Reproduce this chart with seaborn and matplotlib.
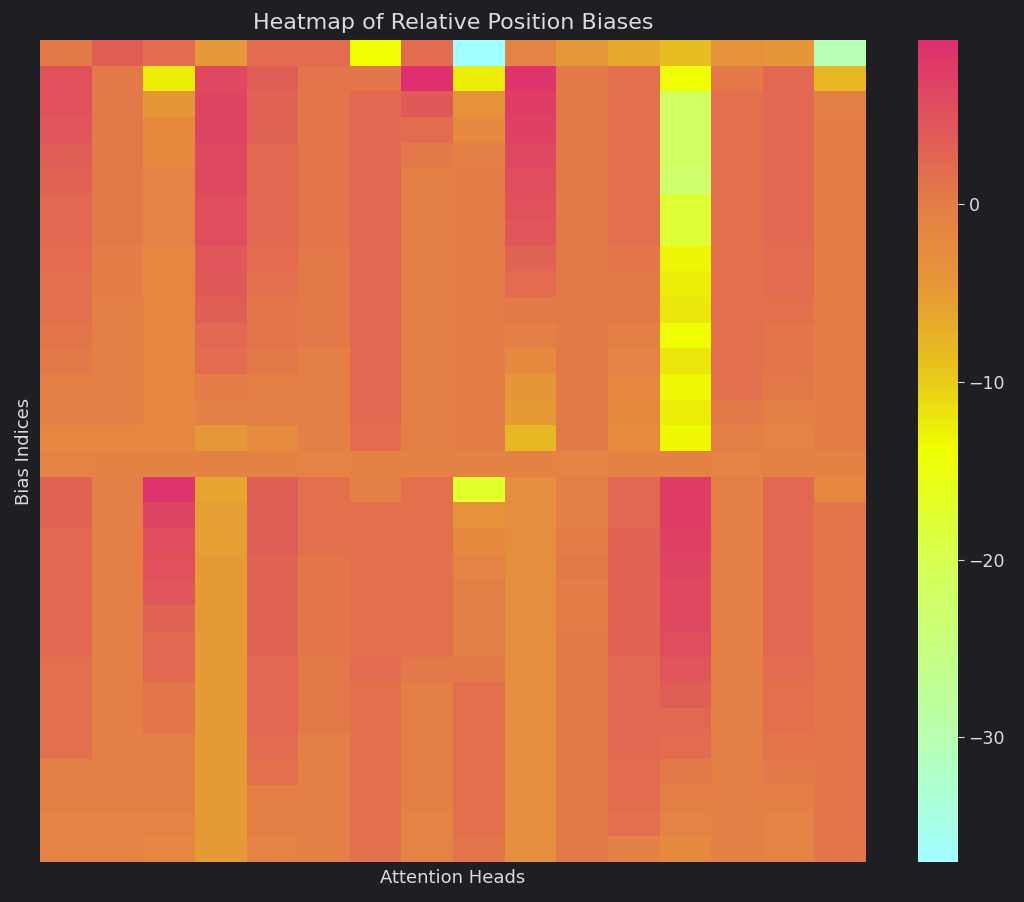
import numpy as np
import pandas as pd
import seaborn as sns
import matplotlib.pyplot as plt
from matplotlib.colors import LinearSegmentedColormap

# === Data: relative position biases (32 buckets x 16 heads) ===
row_00 = [0.5, 3.5, 2.0, -4.5, 2.0, 2.0, -14.0, 2.0, -37.0, -1.0, -4.5, -6.5, -8.5, -3.5, -4.0, -30.5]
row_01 = [5.0, 0.5, -12.5, 6.0, 3.5, 1.0, 1.0, 9.2, -12.5, 8.5, 0.5, 1.5, -14.0, 0.5, 2.5, -8.0]
row_02 = [5.0, 0.5, -4.0, 6.5, 3.0, 1.0, 2.5, 4.0, -3.5, 7.5, 0.5, 1.5, -22.0, 1.5, 2.5, -0.5]
row_03 = [4.5, 0.5, -2.0, 6.5, 3.0, 1.0, 2.5, 2.0, -2.0, 7.0, 0.5, 1.5, -22.0, 1.5, 2.5, 0.0]
row_04 = [3.5, 0.5, -2.0, 6.0, 2.5, 1.0, 2.5, 0.5, -0.5, 6.0, 0.5, 1.5, -22.0, 1.5, 2.5, 0.0]
row_05 = [3.0, 0.5, -1.0, 6.0, 2.5, 1.0, 2.5, -0.5, 0.0, 5.5, 0.5, 1.5, -23.0, 1.5, 2.5, 0.0]
row_06 = [2.5, 0.5, -1.0, 5.5, 2.5, 1.0, 2.5, -0.5, 0.0, 5.0, 0.5, 1.5, -18.0, 1.5, 2.5, 0.0]
row_07 = [2.5, 0.5, -1.0, 5.5, 2.5, 1.0, 2.5, -0.5, 0.0, 4.5, 0.5, 1.5, -18.0, 1.5, 2.5, 0.0]
row_08 = [2.0, 0.0, -1.5, 4.5, 2.0, 0.5, 2.5, -0.5, 0.0, 3.0, 0.5, 1.0, -13.0, 1.5, 2.0, 0.0]
row_09 = [1.5, 0.0, -1.5, 4.0, 1.5, 0.5, 2.5, -0.5, 0.0, 2.0, 0.5, 0.5, -12.5, 1.5, 2.0, 0.0]
row_10 = [1.5, -0.5, -1.5, 3.5, 1.0, 0.5, 2.5, -0.5, 0.0, 0.5, 0.5, 0.5, -12.0, 1.5, 1.5, 0.0]
row_11 = [1.0, -0.5, -1.5, 2.5, 1.0, 0.5, 2.5, -0.5, 0.0, -0.5, 0.5, -0.5, -14.0, 1.5, 1.0, 0.0]
row_12 = [0.5, -0.5, -1.5, 2.0, 0.5, -0.5, 2.5, -0.5, 0.0, -2.0, 0.5, -1.0, -12.0, 1.5, 1.0, 0.0]
row_13 = [-0.5, -0.5, -1.5, 0.0, -0.5, -0.5, 2.5, -0.5, 0.0, -4.0, 0.5, -1.5, -13.5, 1.5, 0.5, 0.0]
row_14 = [-0.5, -0.5, -1.5, -0.5, -0.5, -0.5, 2.5, -0.5, 0.0, -5.0, 0.5, -2.0, -12.5, 0.5, -0.5, 0.0]
row_15 = [-1.5, -1.5, -1.5, -4.5, -2.5, -0.5, 2.0, -0.5, 0.0, -8.0, 0.5, -2.5, -13.5, -0.5, -1.0, 0.0]
row_16 = [-1.0, -0.8, -0.8, -0.8, -0.8, -1.0, -0.8, -0.8, -0.8, -0.8, -1.0, -0.8, -0.8, -1.0, -0.8, -0.8]
row_17 = [3.0, -0.5, 8.5, -6.0, 3.5, 1.5, -0.5, 1.5, -17.0, -3.0, -0.5, 2.5, 7.5, -0.5, 2.5, -1.5]
row_18 = [3.0, -0.5, 6.5, -5.5, 3.5, 1.5, 1.5, 1.5, -3.5, -3.0, -0.5, 2.5, 7.5, -0.5, 2.5, 1.0]
row_19 = [2.5, -0.5, 5.5, -5.5, 3.5, 1.5, 1.5, 1.5, -2.0, -3.0, 0.0, 3.0, 7.0, -0.5, 2.5, 1.0]
row_20 = [2.5, -0.5, 5.0, -5.0, 3.0, 1.0, 1.5, 1.5, -1.0, -3.0, 0.5, 3.0, 6.5, -0.5, 2.5, 1.0]
row_21 = [2.5, -0.5, 4.5, -5.0, 3.0, 1.0, 1.5, 1.5, -0.5, -3.0, 0.0, 3.0, 6.0, -0.5, 2.5, 1.0]
row_22 = [2.5, -0.5, 3.0, -5.0, 3.0, 1.0, 1.5, 1.5, -0.5, -3.0, 0.0, 3.0, 6.0, -0.5, 2.5, 1.0]
row_23 = [2.5, -0.5, 2.5, -5.0, 3.0, 1.0, 1.5, 1.5, -0.5, -3.0, 0.5, 3.0, 5.5, -0.5, 2.5, 1.0]
row_24 = [1.5, -0.5, 2.5, -5.0, 2.5, 0.5, 2.0, 0.5, 0.5, -3.0, 0.5, 2.5, 4.5, -0.5, 2.0, 1.0]
row_25 = [1.5, -0.5, 1.0, -5.0, 2.5, 0.5, 1.5, -0.5, 1.5, -3.0, 0.5, 2.5, 3.5, -0.5, 1.5, 1.0]
row_26 = [1.5, -0.5, 1.0, -5.0, 2.5, 0.5, 1.5, -0.5, 1.5, -3.0, 0.5, 2.5, 2.5, -0.5, 1.5, 1.0]
row_27 = [1.5, -0.5, -0.5, -5.0, 2.0, -0.5, 1.5, -0.5, 1.5, -3.0, 0.5, 2.5, 2.0, -0.5, 1.0, 1.0]
row_28 = [-0.5, -0.5, -0.5, -5.0, 1.5, -0.5, 1.5, -0.5, 1.5, -3.0, 0.5, 2.0, 0.5, -0.5, 0.5, 1.0]
row_29 = [-0.5, -0.5, -0.5, -5.0, -0.5, -0.5, 1.5, -0.5, 1.5, -3.0, 0.5, 2.0, -0.5, -0.5, -0.5, 1.0]
row_30 = [-1.0, -1.0, -1.0, -5.0, -0.5, -0.5, 1.5, -1.0, 1.5, -3.0, 0.5, 1.5, -1.0, -0.5, -1.0, 1.0]
row_31 = [-1.0, -1.0, -1.5, -5.0, -1.0, -0.5, 1.5, -1.0, 1.0, -3.0, 0.5, -0.5, -2.0, -0.5, -1.0, 1.0]

rows = [row_00, row_01, row_02, row_03, row_04, row_05, row_06, row_07,
        row_08, row_09, row_10, row_11, row_12, row_13, row_14, row_15,
        row_16, row_17, row_18, row_19, row_20, row_21, row_22, row_23,
        row_24, row_25, row_26, row_27, row_28, row_29, row_30, row_31]
df = pd.DataFrame(rows)

# === Colormap: cyan -> yellow -> orange -> pink ===
vmin, vmax = -37.0, 9.2
anchors = [(-37.0, "#a0ffff"), (-30.0, "#b8ffb0"), (-20.0, "#d6ff50"),
           (-13.8, "#f0ff00"), (-10.0, "#e8cc18"), (-5.0, "#e69a36"),
           (0.0, "#e47e46"), (4.0, "#e05a58"), (9.2, "#df2f6e")]
cmap = LinearSegmentedColormap.from_list(
    "bias", [((v - vmin) / (vmax - vmin), c) for v, c in anchors])

# === Figure ===
bg = "#1f1f23"
fg = "#dcdcdc"
fig = plt.figure(figsize=(10.24, 9.02), dpi=100, facecolor=bg)
ax = fig.add_axes([40 / 1024, 40 / 902, 826 / 1024, 822 / 902])
cax = fig.add_axes([918 / 1024, 40 / 902, 40 / 1024, 822 / 902])

sns.heatmap(df, cmap=cmap, vmin=vmin, vmax=vmax, ax=ax, cbar_ax=cax,
            xticklabels=False, yticklabels=False)

ax.set_facecolor(bg)
ax.set_title("Heatmap of Relative Position Biases", color=fg, fontsize=16, pad=8)
ax.set_xlabel("Attention Heads", color=fg, fontsize=13, labelpad=5)
ax.set_ylabel("Bias Indices", color=fg, fontsize=13, labelpad=5)

cax.set_yticks([0, -10, -20, -30])
cax.tick_params(colors=fg, labelsize=12.5, length=4, width=0.8)
for sp in cax.spines.values():
    sp.set_visible(False)

fig.savefig("out.png", dpi=100, facecolor=bg)
